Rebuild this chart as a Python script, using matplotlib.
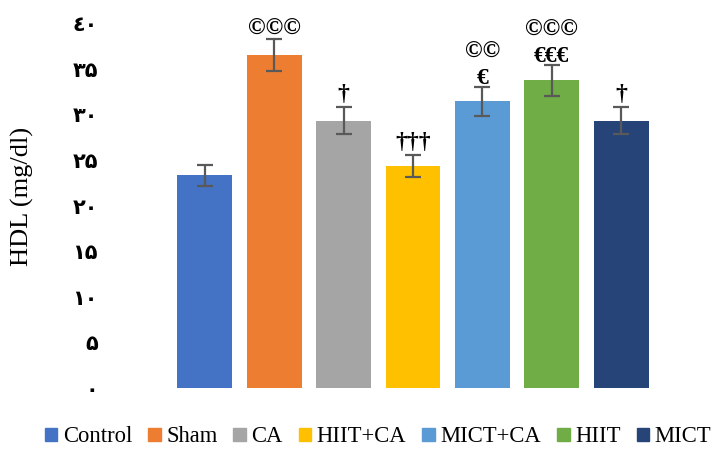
import matplotlib
matplotlib.use("Agg")
import matplotlib.pyplot as plt
from matplotlib.patches import Patch

groups = ["Control", "Sham", "CA", "HIIT+CA", "MICT+CA", "HIIT", "MICT"]
hdl_mean = [23.3, 36.5, 29.3, 24.3, 31.4, 33.7, 29.3]
hdl_err = [1.15, 1.8, 1.5, 1.2, 1.55, 1.65, 1.5]
marks = ["", "©©©", "†", "†††", "©©\n€", "©©©\n€€€", "†"]
y_ticks = [0, 5, 10, 15, 20, 25, 30, 35, 40]

colors = ["#4472C4", "#ED7D31", "#A5A5A5", "#FFC000",
          "#5B9BD5", "#70AD47", "#264478"]

# digits as printed on the axis
fa_digits = {"0": "٠", "1": "١", "2": "٢", "3": "٣", "4": "٤", "5": "۵"}


def to_fa(n):
    return "".join(fa_digits[c] for c in str(n))


fig = plt.figure(figsize=(7.12, 4.5), dpi=100)
ax = fig.add_axes([170 / 712, 1 - 388 / 450, 486 / 712, 365 / 450])

x = list(range(len(groups)))
ax.bar(x, hdl_mean, width=0.79, color=colors, zorder=2)
ax.errorbar(x, hdl_mean, yerr=hdl_err, fmt="none", ecolor="#595959",
            elinewidth=1.6, capsize=6, capthick=1.6, zorder=3)

for xi, m, e, s in zip(x, hdl_mean, hdl_err, marks):
    if s:
        # daggers hang below the baseline, so lift them a bit more
        dy = 1.5 if "†" in s else -1
        ax.annotate(s, (xi, m + e), xytext=(0, dy), textcoords="offset points",
                    ha="center", va="bottom", fontsize=17, fontweight="bold",
                    family="Liberation Serif", linespacing=1.3)

ax.set_xlim(-0.5, len(groups) - 0.5)
ax.set_ylim(0, 40)
ax.set_xticks([])
ax.set_yticks(y_ticks)
ax.set_yticklabels([to_fa(t) for t in y_ticks], fontsize=15,
                   fontweight="bold", family=["DejaVu Sans", "Noto Sans"])
ax.tick_params(axis="y", length=0, pad=52)
for sp in ax.spines.values():
    sp.set_visible(False)

fig.text(22 / 712, 1 - 196 / 450, "HDL (mg/dl)", rotation=90, ha="center",
         va="center", fontsize=19, family="Liberation Serif")

handles = [Patch(color=c, label=g) for c, g in zip(colors, groups)]
fig.legend(handles=handles, loc="center", ncol=7,
           bbox_to_anchor=(378 / 712, 1 - 437 / 450), frameon=False,
           prop={"family": "Liberation Serif", "size": 16.3},
           handlelength=0.55, handleheight=0.55, handletextpad=0.25,
           columnspacing=0.7, borderpad=0)

fig.savefig("out.png", dpi=100)
